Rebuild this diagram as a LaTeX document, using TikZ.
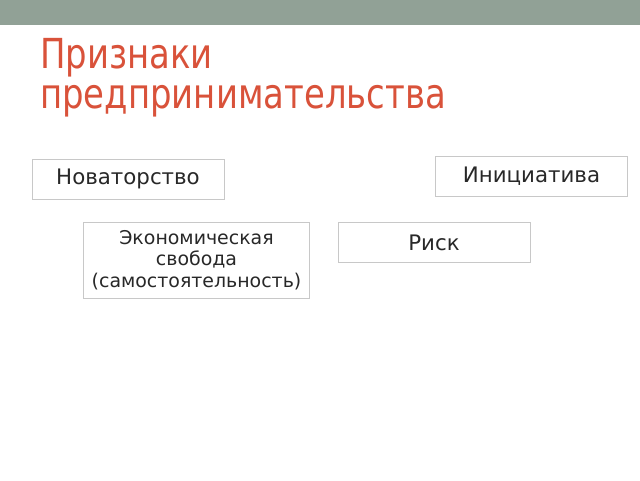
\documentclass[tikz,border=0pt]{standalone}
\usepackage{fontspec}
\setmainfont{DejaVu Sans}
\newfontfamily\titlefont[FakeStretch=0.82]{DejaVu Sans}
\definecolor{barcolor}{RGB}{145,161,150}
\definecolor{titlecolor}{RGB}{217,82,58}
\definecolor{boxline}{RGB}{200,200,200}
\definecolor{boxtext}{RGB}{40,40,40}
\tikzset{
	featurebox/.style={draw=boxline, line width=0.6pt, inner sep=0pt, minimum width=144pt, minimum height=30pt, text=boxtext, font=\fontsize{16}{19}\selectfont},
	titletext/.style={anchor=base west, inner sep=0pt, text=titlecolor, font=\titlefont\fontsize{31}{36}\selectfont}
}

\begin{document}
\begin{tikzpicture}[x=0.75pt,y=-0.75pt]

	\useasboundingbox (0,0) rectangle (640,480);
	\fill[white] (0,0) rectangle (640,480);
	\fill[barcolor] (0,0) rectangle (640,25);

	\node[titletext] (title) at (40,68) {Признаки};
	\node[titletext] (titlelow) at (40,108) {предпринимательства};

	\node[featurebox] (novat) at (128,179) {Новаторство};
	\node[featurebox] (initiat) at (531.5,176) {Инициатива};
	\node[featurebox, minimum width=170pt, minimum height=57pt, align=center, font=\fontsize{14.2}{16.1}\selectfont] (svoboda) at (196.5,260) {Экономическая\\свобода\\(самостоятельность)};
	\node[featurebox] (risk) at (434,242.5) {Риск};

\end{tikzpicture}
\end{document}
